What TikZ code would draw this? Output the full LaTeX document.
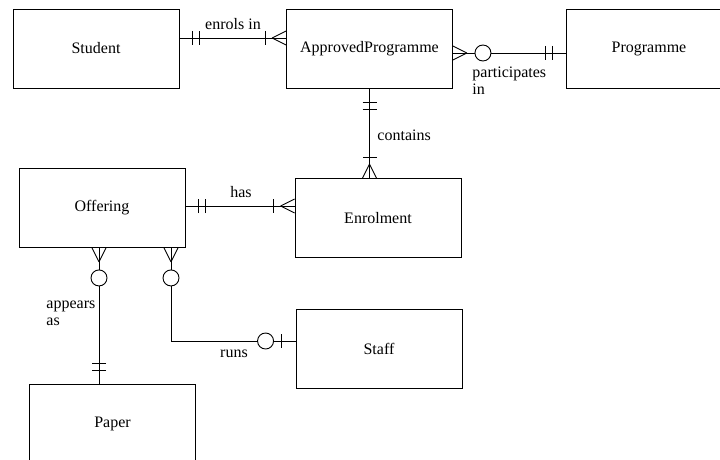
\documentclass[tikz,border=0pt]{standalone}
\usepackage{fontspec}
\setmainfont{Liberation Serif}
\newfontfamily\erfont{Liberation Serif}
\begin{document}
\begin{tikzpicture}[x=1pt,y=1pt,line width=0.9pt,
  entity/.style={draw,rectangle,minimum width=166pt,minimum height=79pt,inner sep=0pt,font=\erfont\fontsize{16}{18}\selectfont},
  lbl/.style={font=\erfont\fontsize{16}{17}\selectfont,inner sep=0pt,align=left},
  crow/.pic={\draw (14,0) -- (0,7) (14,0) -- (0,-7);},
  onebar/.pic={\draw (21,-7) -- (21,7);},
  twobar/.pic={\draw (13,-7) -- (13,7) (20,-7) -- (20,7);},
  ocirc/.pic={\draw[fill=white] (30,0) circle (8pt);},
  obar/.pic={\draw (14,-7) -- (14,7);}
]
\useasboundingbox (0,0) rectangle (720,-460);
\clip (0,0) rectangle (720,-460);
% entities
\node[entity] (student) at (96,-48.5) {Student};
\node[entity] (ap) at (369.5,-49) {ApprovedProgramme};
\node[entity] (prog) at (649,-49) {Programme};
\node[entity] (off) at (102,-208) {Offering};
\node[entity] (enr) at (378,-218) {Enrolment};
\node[entity] (staff) at (379,-348.5) {Staff};
\node[entity] (paper) at (112.5,-423.5) {Paper};
% connector end points
\coordinate (c1a) at (student.east |- 0,-38);
\coordinate (c1b) at (ap.west |- 0,-38);
\coordinate (c2a) at (ap.east |- 0,-53);
\coordinate (c2b) at (prog.west |- 0,-53);
\coordinate (c3a) at (ap.south);
\coordinate (c3b) at (enr.north -| ap.south);
\coordinate (c4a) at (off.east |- 0,-206);
\coordinate (c4b) at (enr.west |- 0,-206);
\coordinate (c5a) at (off.south -| 99,0);
\coordinate (c5b) at (paper.north -| 99,0);
\coordinate (c6a) at (off.south -| 171,0);
\coordinate (c6b) at (staff.west |- 0,-341);
\coordinate (c6k) at (171,-341);
% enrols in
\draw (c1a) -- (c1b);
\pic at (c1a) {twobar};
\pic[rotate=180] at (c1b) {crow};
\pic[rotate=180] at (c1b) {onebar};
\node[lbl,anchor=south] at (233,-30) {enrols in};
% participates in
\draw (c2a) -- (c2b);
\pic at (c2a) {crow};
\pic at (c2a) {ocirc};
\pic[rotate=180] at (c2b) {twobar};
\node[lbl,anchor=north west] at (472,-66) {participates\\in};
% contains
\draw (c3a) -- (c3b);
\pic[rotate=-90] at (c3a) {twobar};
\pic[rotate=90] at (c3b) {crow};
\pic[rotate=90] at (c3b) {onebar};
\node[lbl,anchor=west] at (377,-135) {contains};
% has
\draw (c4a) -- (c4b);
\pic at (c4a) {twobar};
\pic[rotate=180] at (c4b) {crow};
\pic[rotate=180] at (c4b) {onebar};
\node[lbl,anchor=south] at (241,-198) {has};
% appears as
\draw (c5a) -- (c5b);
\pic[rotate=-90] at (c5a) {crow};
\pic[rotate=-90] at (c5a) {ocirc};
\pic[rotate=90] at (c5b) {twobar};
\node[lbl,anchor=north west] at (46,-301) {appears\\as};
% runs
\draw (c6a) -- (c6k) -- (c6b);
\pic[rotate=-90] at (c6a) {crow};
\pic[rotate=-90] at (c6a) {ocirc};
\pic[rotate=180] at (c6b) {obar};
\pic[rotate=180] at (c6b) {ocirc};
\node[lbl,anchor=north] at (234,-350) {runs};
\end{tikzpicture}
\end{document}
